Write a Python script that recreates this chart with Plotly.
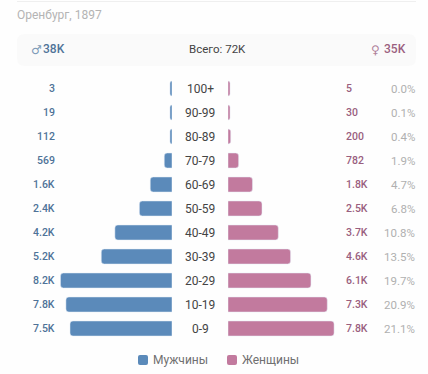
import plotly.graph_objects as go

title = "Оренбург, 1897"
ages = ["0-9", "10-19", "20-29", "30-39", "40-49", "50-59", "60-69", "70-79", "80-89", "90-99", "100+"]
male = [7500, 7800, 8200, 5200, 4200, 2400, 1600, 569, 112, 19, 3]
female = [7800, 7300, 6100, 4600, 3700, 2500, 1800, 782, 200, 30, 5]
male_labels = ["7.5K", "7.8K", "8.2K", "5.2K", "4.2K", "2.4K", "1.6K", "569", "112", "19", "3"]
female_labels = ["7.8K", "7.3K", "6.1K", "4.6K", "3.7K", "2.5K", "1.8K", "782", "200", "30", "5"]
percent_labels = ["21.1%", "20.9%", "19.7%", "13.5%", "10.8%", "6.8%", "4.7%", "1.9%", "0.4%", "0.1%", "0.0%"]
male_total, total, female_total = "38K", "72K", "35K"
legend_names = ["Мужчины", "Женщины"]

W, H = 428, 374
MIN_VISIBLE = 150
BLUE, PINK = "#5B8ABA", "#C27A9E"
BLUE_T, PINK_T = "#4F7398", "#9A5F7F"
FONT = "Roboto"
PX_PER = 13.6 / 1000
ROW = 24
Y0 = 328.5

fig = go.Figure()
fig.add_bar(y=ages, x=[max(v, MIN_VISIBLE) for v in male], orientation="h", name=legend_names[0],
            marker=dict(color=BLUE, cornerradius=3), xaxis="x", yaxis="y", hoverinfo="skip")
fig.add_bar(y=ages, x=[max(v, MIN_VISIBLE) for v in female], orientation="h", name=legend_names[1],
            marker=dict(color=PINK, cornerradius=3), xaxis="x2", yaxis="y", hoverinfo="skip")

ann = []
def text(x, y, s, color, size, anchor="center", yref="paper", weight=400, family=FONT):
    dx = {"left": -1, "right": 1, "center": 0}[anchor]
    ann.append(dict(x=(x + dx) / W, y=(1 - y / H) if yref == "paper" else y, xref="paper", yref=yref, text=s,
                    showarrow=False, xanchor=anchor, yanchor="middle", borderpad=0,
                    font=dict(color=color, size=size, family=family, weight=weight)))

text(17, 15, title, "#B4B4B4", 12, "left")
text(30.5, 50.5, "♂", "#7D9AB8", 12, "left", family="DejaVu Sans")
text(43, 49.5, male_total, BLUE_T, 12, "left", weight=500)
text(217, 49.5, f"Всего: {total}", "#444444", 11.5)
text(371, 50.5, "♀", "#B0829B", 12, "left", family="DejaVu Sans")
text(384, 49.5, female_total, PINK_T, 12, "left", weight=500)

for i, (age, m, f, p) in enumerate(zip(ages, male_labels, female_labels, percent_labels)):
    text(54.5, i, m, BLUE_T, 10.5, "right", "y", weight=500)
    text(200, i, age, "#444444", 12, "center", "y")
    text(346, i, f, PINK_T, 10.5, "left", "y", weight=500)
    text(415, i, p, "#B0B0B0", 11.5, "right", "y")

def rounded(x0, y0, w, h, color, r=2):
    x1, y1 = x0 + w, y0 + h
    to_x = lambda v: v / W
    to_y = lambda v: 1 - v / H
    path = (f"M{to_x(x0 + r)},{to_y(y0)} L{to_x(x1 - r)},{to_y(y0)} Q{to_x(x1)},{to_y(y0)} {to_x(x1)},{to_y(y0 + r)} "
            f"L{to_x(x1)},{to_y(y1 - r)} Q{to_x(x1)},{to_y(y1)} {to_x(x1 - r)},{to_y(y1)} "
            f"L{to_x(x0 + r)},{to_y(y1)} Q{to_x(x0)},{to_y(y1)} {to_x(x0)},{to_y(y1 - r)} "
            f"L{to_x(x0)},{to_y(y0 + r)} Q{to_x(x0)},{to_y(y0)} {to_x(x0 + r)},{to_y(y0)} Z")
    return dict(type="path", xref="paper", yref="paper", path=path, fillcolor=color, line=dict(width=0), layer="below")

text(153, 360, legend_names[0], "#707070", 12, "left")
text(241.5, 360, legend_names[1], "#707070", 12, "left")

shapes = [
    dict(type="line", xref="paper", yref="paper", x0=17 / W, x1=416 / W, y0=1 - 1.5 / H, y1=1 - 1.5 / H,
         line=dict(color="#EFEFEF", width=1), layer="below"),
    rounded(17, 34, 399, 32, "#FAFAFA", r=8),
    rounded(138, 355, 10, 10, BLUE),
    rounded(227, 355, 10, 10, PINK),
]

y_low = -(H - Y0) / ROW
fig.update_layout(
    width=W, height=H, margin=dict(l=0, r=0, t=0, b=0), paper_bgcolor="#FEFEFE", plot_bgcolor="rgba(0,0,0,0)",
    bargap=0.375, font=dict(family=FONT), showlegend=False,
    annotations=ann, shapes=shapes,
    xaxis=dict(domain=[0, 172 / W], range=[172 / PX_PER, 0], visible=False, anchor="y"),
    xaxis2=dict(domain=[228 / W, 1], range=[0, 200 / PX_PER], visible=False, anchor="y"),
    yaxis=dict(type="category", categoryorder="array", categoryarray=ages, range=[y_low, y_low + H / ROW],
               visible=False),
)
fig.write_html("out.html", post_script="document.body.style.margin='0';", config=dict(displayModeBar=False))
